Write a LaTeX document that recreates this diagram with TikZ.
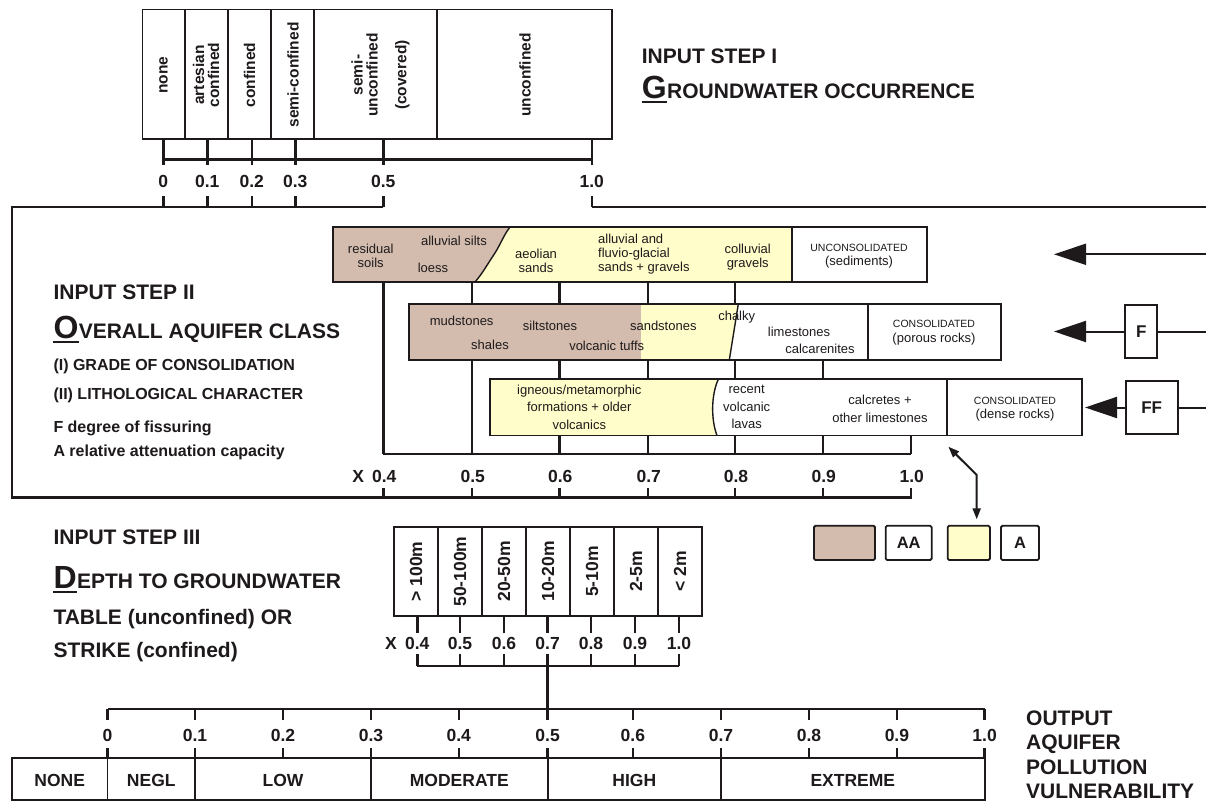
\documentclass[tikz,border=0pt]{standalone}
\usepackage{fontspec}
\setmainfont{Liberation Sans}
\usetikzlibrary{arrows.meta}
\definecolor{brownfill}{RGB}{211,188,174}
\definecolor{yellowfill}{RGB}{255,253,201}
\definecolor{ink}{RGB}{30,26,27}
\tikzset{
  box/.style={draw=ink, line width=1.8pt},
  thinb/.style={draw=ink, line width=1.4pt},
  scl/.style={draw=ink, line width=2.4pt},
  num/.style={font=\bfseries\fontsize{17.5}{17.5}\selectfont, text=ink, inner sep=0},
  head/.style={font=\bfseries\fontsize{21}{21}\selectfont, text=ink, inner sep=0, anchor=base west},
  init/.style={font=\bfseries\fontsize{32}{32}\selectfont, text=ink, inner sep=0, anchor=base west},
  sub/.style={font=\bfseries\fontsize{16}{16}\selectfont, text=ink, inner sep=0, anchor=base west},
  vlab/.style={font=\bfseries\fontsize{15.5}{15}\selectfont, rotate=90, align=center, inner sep=0, text=ink},
  dlab/.style={font=\bfseries\fontsize{17.5}{17.5}\selectfont, rotate=90, inner sep=0, text=ink},
  rock/.style={font=\fontsize{13}{14.2}\selectfont, align=center, inner sep=0, text=ink},
  outlab/.style={font=\bfseries\fontsize{17.5}{17.5}\selectfont, text=ink, inner sep=0},
  bigarrow/.style={draw=ink, line width=2pt, -{Triangle[length=32pt,width=21pt]}},
  leg/.style={draw=ink, line width=1.8pt, rounded corners=1.5pt, inner sep=0,
    minimum height=34.3pt, font=\bfseries\fontsize{16.5}{16.5}\selectfont, text=ink},
  fbox/.style={draw=ink, line width=1.8pt, inner sep=0, font=\bfseries\fontsize{17}{17}\selectfont, text=ink}
}
\begin{document}
\begin{tikzpicture}[x=1pt,y=-1pt]
\useasboundingbox (0,0) rectangle (1206,802);
\fill[white] (0,0) rectangle (1206,802);

% ---------------- STEP I ----------------
\draw[box] (142.5,9.5) rectangle (611.7,139);
\foreach \x in {185,227.7,270.7,314.3,436.7} \draw[box] (\x,9.5) -- (\x,139);
\node[vlab] (g1) at (163.5,75) {none};
\node[vlab] (g2) at (206,75) {artesian\\confined};
\node[vlab] (g3) at (249.5,75) {confined};
\node[vlab] (g4) at (293,75) {semi-confined};
\node[vlab] (g5) at (364.5,75) {semi-\\unconfined};
\node[vlab] (g5b) at (402.3,75) {(covered)};
\node[vlab] (g6) at (525,75) {unconfined};

\foreach \x/\l in {163.3/0, 207.3/0.1, 251.7/0.2, 295.3/0.3, 383.3/0.5, 591.7/1.0} {
  \draw[scl] (\x,139) -- (\x,165);
  \node[num] at (\x,181.7) {\l};
  \draw[scl] (\x,196) -- (\x,207);
}
\draw[scl] (163.3,159.5) -- (591.7,159.5);

\node[head] (s1a) at (641.7,64) {INPUT STEP I};
\node[init] (s1g) at (641.7,98.3) {G};
\node[head] (s1b) at (s1g.base east) {ROUNDWATER OCCURRENCE};
\draw[ink, line width=2.2pt] ([yshift=-3.5pt]s1g.base west) -- ([yshift=-3.5pt]s1g.base east);

% ---------------- STEP II frame ----------------
\draw[scl, line join=miter] (383.3,207) -- (12,207) -- (12,497.3) -- (910.7,497.3) -- (910.7,488);
\draw[scl] (591.7,207) -- (1206,207);

% Row 1 : unconsolidated
\fill[yellowfill] (333.3,227) rectangle (792,282);
\fill[brownfill] (333.3,227) -- (510,227) .. controls (503,236) and (500,246) .. (493,256)
   .. controls (487,265) and (482,274) .. (475,282) -- (333.3,282) -- cycle;
\draw[thinb] (510,227) .. controls (503,236) and (500,246) .. (493,256)
   .. controls (487,265) and (482,274) .. (475,282);
\draw[box] (792,227) -- (792,282);
\draw[box] (333.3,227) rectangle (926.7,282);
\node[rock] (t1) at (370.7,255.5) {residual\\soils};
\node[rock] (t2) at (454,240.7) {alluvial silts};
\node[rock] (t3) at (433,268.3) {loess};
\node[rock] (t4) at (536,260.5) {aeolian\\sands};
\node[rock, align=left] (t5) at (598,254.2) [anchor=west] {alluvial and\\fluvio-glacial\\sands + gravels};
\node[rock] (t6) at (747.7,257.3) {colluvial\\gravels};
\node[rock] (t7) at (859,256.5) {{\fontsize{10.5}{13}\selectfont UNCONSOLIDATED}\\(sediments)};

% Row 2 : consolidated porous
\fill[yellowfill] (640.7,304) -- (738.3,304) -- (729.3,360) -- (640.7,360) -- cycle;
\fill[brownfill] (409.3,304) rectangle (640.7,360);
\draw[thinb] (738.3,304) -- (729.3,360);
\draw[box] (868.3,304) -- (868.3,360);
\draw[box] (409.3,304) rectangle (1000.7,360);
\node[rock] (u1) at (461.7,320.7) {mudstones};
\node[rock] (u2) at (490,345) {shales};
\node[rock] (u3) at (550,326) {siltstones};
\node[rock] (u4) at (606.7,345.7) {volcanic tuffs};
\node[rock] (u5) at (663.3,326) {sandstones};
\node[rock] (u6) at (736.7,316.7) {chalky};
\node[rock] (u7) at (799,331.7) {limestones};
\node[rock] (u8) at (820,349.3) {calcarenites};
\node[rock] (u9) at (934,332.7) {{\fontsize{10.5}{13}\selectfont CONSOLIDATED}\\(porous rocks)};

% Row 3 : consolidated dense
\fill[yellowfill] (490,379.3) -- (718.3,379.3) .. controls (711,395) and (711,420) .. (717,435.5) -- (490,435.5) -- cycle;
\draw[thinb] (718.3,379.3) .. controls (711,395) and (711,420) .. (717,435.5);
\draw[box] (946.7,379.3) -- (946.7,435.5);
\draw[box] (490,379.3) rectangle (1081.7,435.5);
\node[rock, font=\fontsize{13}{17.5}\selectfont] (v1) at (579.3,407) {igneous/metamorphic\\formations + older\\volcanics};
\node[rock, font=\fontsize{13}{17.5}\selectfont] (v2) at (746.7,407) {recent\\volcanic\\lavas};
\node[rock, font=\fontsize{13}{18.3}\selectfont] (v3) at (880,409.2) {calcretes +\\other limestones};
\node[rock] (v4) at (1015,408.8) {{\fontsize{10.5}{13}\selectfont CONSOLIDATED}\\(dense rocks)};

% connectors of step II
\draw[scl] (383.3,282) -- (383.3,454);
\draw[scl] (471.7,282) -- (471.7,304);
\draw[scl] (471.7,360) -- (471.7,454);
\foreach \x in {559.3,647.7,735} {
  \draw[scl] (\x,282) -- (\x,304);
  \draw[scl] (\x,360) -- (\x,379.3);
  \draw[scl] (\x,435.5) -- (\x,454);
}
\draw[scl] (822.7,360) -- (822.7,379.3);
\draw[scl] (822.7,435.5) -- (822.7,454);
\draw[scl] (910.7,435.5) -- (910.7,454);
\draw[scl] (383.3,454) -- (910.7,454);
\node[num] (x2) at (358.3,476.7) {X};
\foreach \x/\l in {383.3/0.4, 471.7/0.5, 559.3/0.6, 647.7/0.7, 735/0.8, 822.7/0.9, 910.7/1.0} {
  \node[num] at (\x+1,476.7) {\l};
  \draw[scl] (\x,488) -- (\x,497.3);
}

% step II texts
\node[head] (s2a) at (53.3,299.3) {INPUT STEP II};
\node[init] (s2o) at (53.3,338.3) {O};
\node[head] (s2b) at (s2o.base east) {VERALL AQUIFER CLASS};
\draw[ink, line width=2.2pt] ([yshift=-3.5pt]s2o.base west) -- ([yshift=-3.5pt]s2o.base east);
\node[sub] (s2c) at (53.3,370) {(I) GRADE OF CONSOLIDATION};
\node[sub] (s2d) at (53.3,399.3) {(II) LITHOLOGICAL CHARACTER};
\node[sub] (s2e) at (53.3,432.5) {F degree of fissuring};
\node[sub] (s2f) at (53.3,456) {A relative attenuation capacity};

% arrows from right
\coordinate (r1s) at (1206,254.3);
\coordinate (r1t) at (1054,254.3);
\draw[bigarrow] (r1s) -- (r1t);
\node[fbox, minimum width=32.3pt, minimum height=52.3pt] (F) at (1141.2,331.5) {F};
\coordinate (r2s) at (1206,331.5);
\coordinate (r2t) at (1054,331.5);
\draw[draw=ink, line width=2pt] (r2s) -- (F.east);
\draw[bigarrow] (F.west) -- (r2t);
\node[fbox, minimum width=52pt, minimum height=52.6pt] (FF) at (1151.7,407.5) {FF};
\coordinate (r3s) at (1206,407.5);
\coordinate (r3t) at (1085,407.5);
\draw[draw=ink, line width=2pt] (r3s) -- (FF.east);
\draw[bigarrow] (FF.west) -- (r3t);

% legend
\node[leg, fill=brownfill, minimum width=61pt] (lb) at (844.5,542.9) {};
\node[leg, minimum width=46pt] (laa) at (908.7,542.9) {AA};
\node[leg, fill=yellowfill, minimum width=42.3pt] (ly) at (968.8,542.9) {};
\node[leg, minimum width=38pt] (la) at (1020,542.9) {A};
\coordinate (da) at (948.3,446.7);
\coordinate (db) at (976.7,475);
\coordinate (dc) at (976.7,519.3);
\draw[draw=ink, line width=2pt, {Triangle[length=11pt,width=8pt]}-{Triangle[length=11pt,width=8pt]}] (da) -- (db) -- (dc);

% ---------------- STEP III ----------------
\draw[box] (394,526.7) rectangle (702.3,616);
\foreach \i in {1,...,6} \draw[box] (394+44*\i,526.7) -- (394+44*\i,616);
\foreach \i/\t in {0/{> 100m},1/{50-100m},2/{20-50m},3/{10-20m},4/{5-10m},5/{2-5m},6/{< 2m}}
  \node[dlab] at (416+44*\i,571.5) {\t};
\node[num] (x3) at (391,643.3) {X};
\foreach \x/\l in {417.3/0.4, 460/0.5, 504/0.6, 547.6/0.7, 591/0.8, 635/0.9, 679/1.0} {
  \draw[scl] (\x,616) -- (\x,633);
  \node[num] at (\x,643.3) {\l};
  \draw[scl] (\x,654) -- (\x,666);
}
\draw[scl] (417.3,666) -- (679,666);
\draw[scl] (547.6,666) -- (547.6,709);

\node[head] (s3a) at (53.3,544) {INPUT STEP III};
\node[init] (s3d) at (53.3,588.3) {D};
\node[head] (s3b) at (s3d.base east) {EPTH TO GROUNDWATER};
\draw[ink, line width=2.2pt] ([yshift=-3.5pt]s3d.base west) -- ([yshift=-3.5pt]s3d.base east);
\node[head] (s3c) at (53.3,624) {TABLE (unconfined) OR};
\node[head] (s3e) at (53.3,657.3) {STRIKE (confined)};

% ---------------- OUTPUT ----------------
\draw[scl] (107.5,709) -- (984.6,709);
\foreach \x/\l in {107.5/0, 195/0.1, 283/0.2, 371/0.3, 458.7/0.4, 547.6/0.5, 632.9/0.6, 721/0.7, 809/0.8, 896.9/0.9, 984.6/1.0} {
  \draw[scl] (\x,709) -- (\x,720);
  \node[num] at (\x,735.5) {\l};
  \draw[scl] (\x,748) -- (\x,758);
}
\draw[box] (12,758) rectangle (984.6,800);
\foreach \x in {107.5,195,371,547.6,721} \draw[box] (\x,758) -- (\x,800);
\node[outlab] (o1) at (59.75,780) {NONE};
\node[outlab] (o2) at (151.25,780) {NEGL};
\node[outlab] (o3) at (283,780) {LOW};
\node[outlab] (o4) at (459.3,780) {MODERATE};
\node[outlab] (o5) at (634.3,780) {HIGH};
\node[outlab] (o6) at (852.8,780) {EXTREME};
\node[head] (q1) at (1026,725) {OUTPUT};
\node[head] (q2) at (1026,749.5) {AQUIFER};
\node[head] (q3) at (1026,774) {POLLUTION};
\node[head] (q4) at (1026,798.5) {VULNERABILITY};
\end{tikzpicture}
\end{document}
